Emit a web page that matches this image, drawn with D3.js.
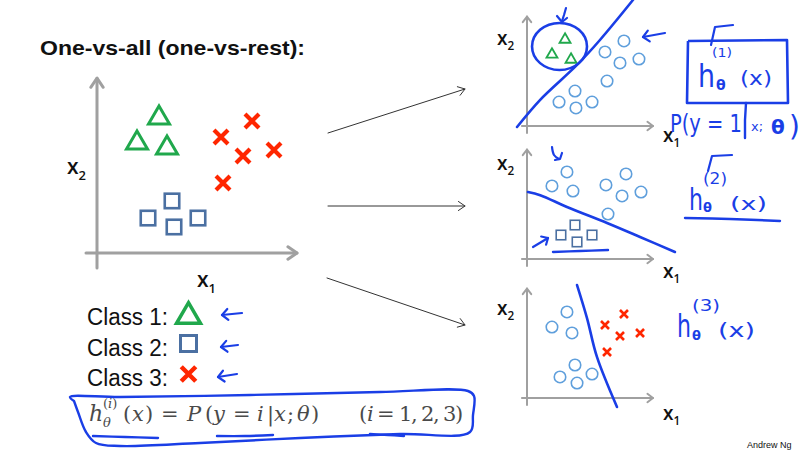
<!DOCTYPE html>
<html>
<head>
<meta charset="utf-8">
<script src="https://cdn.jsdelivr.net/npm/d3@7"></script>
<style>
body { margin: 0; background: #fff; }
svg { display: block; }
</style>
</head>
<body>
<svg id="slide"></svg>
<script>
// ---- data, in plot units (0,0 = corner of the axes) ----
var mainTriangles = [[3.1, 7.26], [2.0, 5.95], [3.5, 5.68]];
var mainSquares = [[2.55, 1.84], [3.75, 2.74], [3.85, 1.37], [5.05, 1.84]];
var mainCrosses = [[6.2, 6.1], [7.75, 6.95], [7.3, 5.1], [8.85, 5.42], [6.3, 3.68]];

var mini1Triangles = [[3.17, 8.0], [2.08, 6.64], [3.67, 6.18]];
var mini1Circles = [[8.08, 7.73], [6.5, 6.73], [9.33, 6.09], [7.75, 5.73], [6.67, 4.09],
                    [4.0, 3.18], [2.67, 2.18], [4.08, 1.64], [5.42, 2.18]];
var mini1Boundary = [[-0.83, -0.09], [1.08, 2.36], [4.17, 5.55], [6.08, 7.82], [8.83, 11.45]];
var mini1Ring = [2.71, 7.23, 2.29, 2.14]; // cx, cy, rx, ry

var mini2Circles = [[3.33, 7.91], [2.08, 6.64], [3.83, 6.18], [6.58, 6.73], [8.25, 7.73],
                    [7.92, 5.73], [9.5, 6.09], [6.75, 4.09]];
var mini2Squares = [[2.83, 2.18], [4.0, 3.09], [4.17, 1.55], [5.42, 2.18]];
var mini2Boundary = [[0.08, 6.09], [1.1, 5.8], [3.33, 4.73], [6.67, 3.27], [9.42, 2.0], [12.33, 0.64]];

var mini3Circles = [[3.33, 7.82], [2.08, 6.45], [3.75, 5.91], [4.0, 3.0], [2.75, 1.91],
                    [4.17, 1.36], [5.42, 2.18]];
var mini3Crosses = [[8.08, 7.64], [6.5, 6.64], [7.75, 5.64], [9.42, 5.91], [6.67, 4.18]];
var mini3Boundary = [[4.17, 10.27], [5.0, 7.27], [5.83, 3.73], [7.5, -0.82]];

var classLabels = ['Class 1:', 'Class 2:', 'Class 3:'];
var classShapes = ['triangle', 'square', 'cross'];

var colors = {
    green: '#20a84c',
    square: '#4b70a2',
    red: '#ff2600',
    ring: '#5f9fdc',
    pen: '#1a3ee6',
    axis: '#a0a0a0',
    ink: '#111111'
};

var svg = d3.select('#slide').attr('width', 800).attr('height', 450);

// ---- helpers ----
function chevron(g, x1, y1, x2, y2, len, spread, color, width) {
    var a = Math.atan2(y2 - y1, x2 - x1);
    var p = d3.path();
    p.moveTo(x2 - len * Math.cos(a - spread), y2 - len * Math.sin(a - spread));
    p.lineTo(x2, y2);
    p.lineTo(x2 - len * Math.cos(a + spread), y2 - len * Math.sin(a + spread));
    g.append('path').attr('d', p.toString())
        .attr('fill', 'none').attr('stroke', color).attr('stroke-width', width)
        .attr('stroke-linecap', 'round').attr('stroke-linejoin', 'round');
}

function arrow(g, x1, y1, x2, y2, len, spread, color, width) {
    g.append('line').attr('x1', x1).attr('y1', y1).attr('x2', x2).attr('y2', y2)
        .attr('stroke', color).attr('stroke-width', width).attr('stroke-linecap', 'round');
    chevron(g, x1, y1, x2, y2, len, spread, color, width);
}

function drawMarks(g, data, shape, sx, sy, s, w, color) {
    var sel = g.selectAll(null).data(data).enter().append('g')
        .attr('transform', function(d) { return 'translate(' + sx(d[0]) + ',' + sy(d[1]) + ')'; });
    if (shape === 'triangle') {
        var h = s * 0.86;
        sel.append('path')
            .attr('d', 'M0,' + (-h / 2) + 'L' + (s / 2) + ',' + (h / 2) + 'L' + (-s / 2) + ',' + (h / 2) + 'Z')
            .attr('fill', 'none').attr('stroke', color).attr('stroke-width', w).attr('stroke-linejoin', 'miter');
    } else if (shape === 'square') {
        sel.append('rect').attr('x', -s / 2).attr('y', -s / 2).attr('width', s).attr('height', s)
            .attr('fill', 'none').attr('stroke', color).attr('stroke-width', w);
    } else if (shape === 'cross') {
        sel.append('path')
            .attr('d', 'M' + (-s / 2) + ',' + (-s / 2) + 'L' + (s / 2) + ',' + (s / 2) +
                       'M' + (s / 2) + ',' + (-s / 2) + 'L' + (-s / 2) + ',' + (s / 2))
            .attr('stroke', color).attr('stroke-width', w).attr('stroke-linecap', 'butt');
    } else if (shape === 'circle') {
        sel.append('circle').attr('r', s / 2)
            .attr('fill', 'none').attr('stroke', color).attr('stroke-width', w);
    }
}

function axisLabel(g, x, y, sub, size) {
    var t = g.append('text').attr('x', x).attr('y', y)
        .style('font-family', '"Open Sans", sans-serif').style('font-weight', 600)
        .style('font-size', size + 'px').style('fill', colors.ink);
    t.append('tspan').text('x');
    t.append('tspan').attr('dy', size * 0.28).style('font-size', (size * 0.62) + 'px').text(sub);
}

function penText(g, x, y, str, size, opts) {
    opts = opts || {};
    var t = g.append('text').attr('x', x).attr('y', y)
        .style('font-family', '"DejaVu Sans", sans-serif')
        .style('font-size', size + 'px')
        .style('font-weight', opts.bold ? 'bold' : 'normal')
        .style('fill', colors.pen)
        .text(str);
    if (opts.width) t.attr('textLength', opts.width).attr('lengthAdjust', 'spacingAndGlyphs');
    return t;
}

function penPath(g, pts, width, curve) {
    g.append('path')
        .attr('d', d3.line().curve(curve || d3.curveCatmullRom)(pts))
        .attr('fill', 'none').attr('stroke', colors.pen).attr('stroke-width', width)
        .attr('stroke-linecap', 'round').attr('stroke-linejoin', 'round');
}

// ---- title ----
svg.append('text').attr('x', 40).attr('y', 55)
    .style('font-family', '"Liberation Sans", Arial, sans-serif').style('font-weight', 'bold')
    .style('font-size', '21px').style('fill', colors.ink)
    .attr('textLength', 265).attr('lengthAdjust', 'spacingAndGlyphs')
    .text('One-vs-all (one-vs-rest):');

// ---- main scatter ----
var xMain = d3.scaleLinear().domain([0, 10]).range([97, 297]);
var yMain = d3.scaleLinear().domain([0, 10]).range([253, 63]);
var mainG = svg.append('g').attr('class', 'main-plot');

arrow(mainG, xMain(0), yMain(-0.79), xMain(0), yMain(9.2), 11, 0.6, colors.axis, 3);
arrow(mainG, xMain(-0.55), yMain(0), xMain(10), yMain(0), 11, 0.6, colors.axis, 3);
axisLabel(mainG, 67, 174, '2', 21);
axisLabel(mainG, 197, 287, '1', 21);

drawMarks(mainG, mainTriangles, 'triangle', xMain, yMain, 21, 3, colors.green);
drawMarks(mainG, mainSquares, 'square', xMain, yMain, 14.5, 2.6, colors.square);
drawMarks(mainG, mainCrosses, 'cross', xMain, yMain, 14, 4.2, colors.red);

// ---- class legend ----
var legendY = d3.scaleLinear().domain([0, 1]).range([325, 355.5]);
var legendG = svg.append('g').attr('class', 'legend');
classLabels.forEach(function(label, i) {
    legendG.append('text').attr('x', 87).attr('y', legendY(i))
        .style('font-family', '"Liberation Sans", Arial, sans-serif')
        .style('font-size', '23px').style('fill', colors.ink)
        .attr('textLength', 81).attr('lengthAdjust', 'spacingAndGlyphs')
        .text(label);
});
var legendX = function() { return 188.5; };
var legendSym = function(v) { return legendY(v) - 12; };
drawMarks(legendG, [[0, 0]], classShapes[0], legendX, legendSym, 24, 3.5, colors.green);
drawMarks(legendG, [[0, 1]], classShapes[1], legendX, legendSym, 16, 3, colors.square);
drawMarks(legendG, [[0, 2]], classShapes[2], legendX, legendSym, 14.5, 4.5, colors.red);

// pen arrows pointing at the legend
arrow(legendG, 242, 313, 222, 315, 8, 0.75, colors.pen, 2.2);
arrow(legendG, 238, 345, 221, 347, 8, 0.75, colors.pen, 2.2);
arrow(legendG, 237, 374, 218, 377, 8, 0.75, colors.pen, 2.2);

// ---- formula ----
var fBase = 421;
var fG = svg.append('g').attr('class', 'formula')
    .style('font-family', '"DejaVu Serif", "Liberation Serif", serif').style('fill', '#4a4a4a');
fG.append('text').attr('x', 89).attr('y', fBase).style('font-size', '22px').style('font-style', 'italic').text('h');
var sup = fG.append('text').attr('x', 103).attr('y', fBase - 13).style('font-size', '13px');
sup.append('tspan').text('(');
sup.append('tspan').style('font-style', 'italic').text('i');
sup.append('tspan').text(')');
fG.append('text').attr('x', 103).attr('y', fBase + 6).style('font-size', '13px').style('font-style', 'italic').text('θ');
var pieces = [
    [123, '(', false], [132, 'x', true], [145, ')', false], [161, '=', false],
    [187, 'P', true], [205, '(', false], [213, 'y', true], [233, '=', false],
    [257, 'i', true], [267, '|', false], [274, 'x', true], [287, ';', false],
    [297, 'θ', true], [311, ')', false],
    [359, '(', false], [367, 'i', true], [377, '=', false], [399, '1', false], [411, ',', false],
    [421, '2', false], [433, ',', false], [443, '3', false], [455, ')', false]
];
pieces.forEach(function(p) {
    fG.append('text').attr('x', p[0]).attr('y', fBase).style('font-size', '21px')
        .style('font-style', p[2] ? 'italic' : 'normal').text(p[1]);
});

// pen loop around the formula and underlines
var penG = svg.append('g').attr('class', 'pen');
penPath(penG, [[74, 401], [70, 397], [120, 397], [250, 395], [380, 392], [468, 391], [474, 396],
               [473, 415], [470, 432], [400, 434], [300, 438], [200, 443], [120, 446], [96, 443],
               [86, 432], [78, 412], [74, 401]], 2.4);
penPath(penG, [[93, 436], [125, 437], [158, 438]], 2.4);
penPath(penG, [[217, 436], [245, 436], [273, 435]], 2.4);
penPath(penG, [[370, 434], [388, 435], [404, 436]], 2.4);

// ---- arrows between the panels ----
var linkG = svg.append('g').attr('class', 'links');
arrow(linkG, 328, 133, 465, 89, 8, 0.6, '#333', 1);
arrow(linkG, 328, 206, 465, 206, 8, 0.6, '#333', 1);
arrow(linkG, 327, 278, 465, 325, 8, 0.6, '#333', 1);

// ---- the three small panels ----
var xMini = d3.scaleLinear().domain([0, 10]).range([527, 647]);
function miniY(oy) { return d3.scaleLinear().domain([0, 10]).range([oy, oy - 110]); }

function drawMiniAxes(g, sy, labelY2, labelY1) {
    arrow(g, xMini(0), sy(-0.64), xMini(0), sy(9.95), 7, 0.65, colors.axis, 2);
    arrow(g, xMini(-0.42), sy(0), xMini(10.5), sy(0), 7, 0.65, colors.axis, 2);
    axisLabel(g, 497, labelY2, '2', 19);
    axisLabel(g, 663, labelY1, '1', 19);
}

function boundary(g, pts, sy) {
    g.append('path')
        .attr('d', d3.line().curve(d3.curveCatmullRom)
            .x(function(d) { return xMini(d[0]); }).y(function(d) { return sy(d[1]); })(pts))
        .attr('fill', 'none').attr('stroke', colors.pen).attr('stroke-width', 2.6)
        .attr('stroke-linecap', 'round');
}

// panel 1
var y1 = miniY(126);
var p1 = svg.append('g').attr('class', 'panel1');
drawMiniAxes(p1, y1, 45, 142);
drawMarks(p1, mini1Triangles, 'triangle', xMini, y1, 11, 1.8, colors.green);
drawMarks(p1, mini1Circles, 'circle', xMini, y1, 11.5, 1.6, colors.ring);
boundary(p1, mini1Boundary, y1);
p1.append('ellipse')
    .attr('cx', xMini(mini1Ring[0])).attr('cy', y1(mini1Ring[1]))
    .attr('rx', xMini(mini1Ring[0] + mini1Ring[2]) - xMini(mini1Ring[0]))
    .attr('ry', y1(mini1Ring[1]) - y1(mini1Ring[1] + mini1Ring[3]))
    .attr('fill', 'none').attr('stroke', colors.pen).attr('stroke-width', 2.6);
penPath(p1, [[566, 8], [564, 15], [562, 21]], 2.2, d3.curveLinear);
penPath(p1, [[557, 16], [562, 22], [567, 18]], 2.2, d3.curveLinear);
arrow(p1, 665, 33, 643, 37, 8, 0.75, colors.pen, 2.2);

// hypothesis box for class 1
p1.append('path')
    .attr('d', d3.line().curve(d3.curveLinear)([[688, 41], [787, 40], [788, 103], [687, 103], [688, 41]]))
    .attr('fill', 'none').attr('stroke', colors.pen).attr('stroke-width', 2.6).attr('stroke-linejoin', 'round');
penPath(p1, [[711, 45], [715, 27], [733, 25]], 2.2, d3.curveLinear);
penText(p1, 712, 57, '(1)', 12, {width: 20});
penText(p1, 698, 87, 'h', 32, {width: 17});
penText(p1, 716, 90, 'θ', 14, {bold: true});
penText(p1, 740, 85, '(x)', 20, {width: 32});
penPath(p1, [[746, 103], [745, 120], [745, 138]], 2.4, d3.curveLinear);
penText(p1, 670, 132, 'P(y = 1', 24, {width: 72});
penText(p1, 751, 131, 'x;', 13);
penText(p1, 771, 134, 'θ', 20, {bold: true});
penText(p1, 789, 136, ')', 28);

// panel 2
var y2 = miniY(259);
var p2 = svg.append('g').attr('class', 'panel2');
drawMiniAxes(p2, y2, 170, 278);
drawMarks(p2, mini2Circles, 'circle', xMini, y2, 11.5, 1.6, colors.ring);
drawMarks(p2, mini2Squares, 'square', xMini, y2, 9.5, 1.6, colors.square);
boundary(p2, mini2Boundary, y2);
penPath(p2, [[553, 252], [580, 251], [608, 250]], 2.4);
arrow(p2, 533, 247, 548, 238, 7, 0.75, colors.pen, 2.2);
penPath(p2, [[552, 147], [554, 155], [559, 159]], 2.2);
penPath(p2, [[555, 160], [560, 159], [562, 153]], 2.2, d3.curveLinear);
penPath(p2, [[708, 171], [712, 156], [732, 155]], 2.2, d3.curveLinear);
penText(p2, 703, 184, '(2)', 15, {width: 24});
penText(p2, 689, 210, 'h', 30, {width: 14});
penText(p2, 703, 212, 'θ', 13, {bold: true});
penText(p2, 730, 210, '(x)', 18, {width: 37});
penPath(p2, [[685, 218], [730, 219], [780, 221]], 2.4);

// panel 3
var y3 = miniY(398);
var p3 = svg.append('g').attr('class', 'panel3');
drawMiniAxes(p3, y3, 315, 420);
drawMarks(p3, mini3Circles, 'circle', xMini, y3, 11.5, 1.6, colors.ring);
drawMarks(p3, mini3Crosses, 'cross', xMini, y3, 8, 2.6, colors.red);
boundary(p3, mini3Boundary, y3);
penText(p3, 692, 311, '(3)', 15, {width: 28});
penText(p3, 677, 337, 'h', 32, {width: 14});
penText(p3, 692, 340, 'θ', 13, {bold: true});
penText(p3, 718, 337, '(x)', 20, {width: 37});

// ---- footer ----
svg.append('text').attr('x', 747).attr('y', 448)
    .style('font-family', '"Liberation Sans", Arial, sans-serif').style('font-size', '9px')
    .style('fill', colors.ink).text('Andrew Ng');
</script>
</body>
</html>
